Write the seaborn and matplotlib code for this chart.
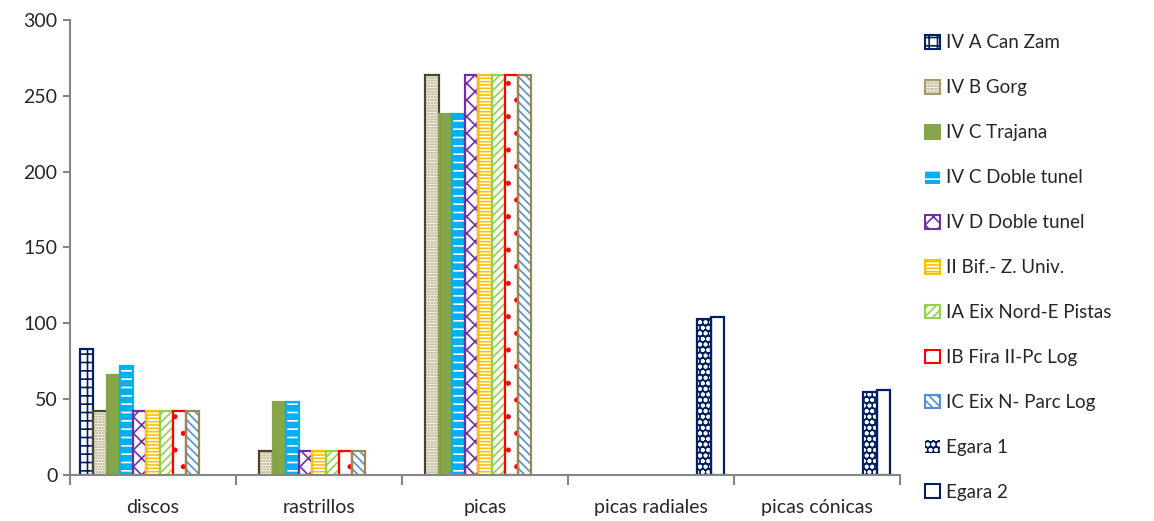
import numpy as np
import pandas as pd
import matplotlib
matplotlib.use("Agg")
import matplotlib.pyplot as plt
from matplotlib.patches import Rectangle, Patch
import seaborn as sns

categories = ["discos", "rastrillos", "picas", "picas radiales", "picas cónicas"]
series = ["IV A Can Zam", "IV B Gorg", "IV C Trajana", "IV C Doble tunel",
          "IV D Doble tunel", "II Bif.- Z. Univ.", "IA Eix Nord-E Pistas",
          "IB Fira II-Pc Log", "IC Eix N- Parc Log", "Egara 1", "Egara 2"]

iv_a_can_zam = [83, 0, 0, 0, 0]
iv_b_gorg = [42, 16, 264, 0, 0]
iv_c_trajana = [66, 48, 238, 0, 0]
iv_c_doble_tunel = [72, 48, 238, 0, 0]
iv_d_doble_tunel = [42, 16, 264, 0, 0]
ii_bif_z_univ = [42, 16, 264, 0, 0]
ia_eix_nord_e_pistas = [42, 16, 264, 0, 0]
ib_fira_ii_pc_log = [42, 16, 264, 0, 0]
ic_eix_n_parc_log = [42, 16, 264, 0, 0]
egara_1 = [0, 0, 0, 103, 55]
egara_2 = [0, 0, 0, 104, 56]

values = [iv_a_can_zam, iv_b_gorg, iv_c_trajana, iv_c_doble_tunel,
          iv_d_doble_tunel, ii_bif_z_univ, ia_eix_nord_e_pistas,
          ib_fira_ii_pc_log, ic_eix_n_parc_log, egara_1, egara_2]

# (face, hatch colour, hatch, border)
styles = [
    ("white", "#002060", "++", "#002060"),
    ("white", "#A89B6A", "......", "#4A452A"),
    ("#86A44A", "#86A44A", "", "#86A44A"),
    ("#00B0F0", "white", "--", "#00B0F0"),
    ("white", "#7030A0", "xx", "#7030A0"),
    ("white", "#FFC000", "-----", "#FFC000"),
    ("white", "#92D050", "////", "#92D050"),
    ("white", "#FF0000", ".", "#FF0000"),
    ("white", "#558ED5", "\\\\\\\\", "#948A54"),
    ("#002060", "white", "ooo", "#002060"),
    ("white", "#002060", "", "#002060"),
]

rows = []
for s, vals in zip(series, values):
    for c, v in zip(categories, vals):
        rows.append({"cat": c, "serie": s, "val": v})
df = pd.DataFrame(rows)

sns.set_style("white")
plt.rcParams["font.family"] = ["Lato", "DejaVu Sans"]
plt.rcParams["hatch.linewidth"] = 1.2

fig = plt.figure(figsize=(11.54, 5.21), dpi=100)
ax = fig.add_axes([70 / 1154, 46 / 521, 830 / 1154, 455 / 521])

palette = {s: st[0] for s, st in zip(series, styles)}
sns.barplot(data=df, x="cat", y="val", hue="serie", hue_order=series,
            order=categories, palette=palette, width=0.88, gap=0,
            dodge=True, ax=ax, legend=False, errorbar=None, saturation=1)

for cont, (face, hcol, hatch, border) in zip(ax.containers, styles):
    for p in cont.patches:
        p.set_facecolor(face)
        p.set_edgecolor(hcol)
        p.set_hatch(hatch)
        p.set_linewidth(0)
        if p.get_height() > 0:
            ax.add_patch(Rectangle(p.get_xy(), p.get_width(), p.get_height(),
                                   fill=False, edgecolor=border, lw=1.6,
                                   zorder=p.get_zorder() + 0.1))

ax.set_xlim(-0.5, len(categories) - 0.5)
ax.set_ylim(0, 300)
ax.set_yticks(np.arange(0, 301, 50))
ax.set_xlabel("")
ax.set_ylabel("")

grey = "#868686"
for side in ["top", "right"]:
    ax.spines[side].set_visible(False)
for side in ["left", "bottom"]:
    ax.spines[side].set_color(grey)
    ax.spines[side].set_linewidth(1.5)

ax.set_xticks(np.arange(len(categories)))
ax.set_xticklabels(categories)
ax.set_xticks(np.arange(-0.5, len(categories), 1.0), minor=True)
ax.tick_params(axis="x", which="major", length=0, labelsize=14, pad=17)
ax.tick_params(axis="x", which="minor", length=7, width=1.5, color=grey,
               direction="out", bottom=True)
ax.tick_params(axis="y", length=5, width=1.5, color=grey, direction="out",
               left=True, labelsize=14, pad=4)

handles = []
for face, hcol, hatch, border in styles:
    if face != "white" and hcol == "white":
        handles.append(Patch(facecolor=face, edgecolor="white", hatch=hatch, lw=0))
    else:
        handles.append(Patch(facecolor=face, edgecolor=hcol, hatch=hatch, lw=1.5))
leg = fig.legend(handles, series, loc="upper left",
                 bbox_to_anchor=(918 / 1154, 1 - 27 / 521),
                 frameon=False, fontsize=13.5, handlelength=0.75,
                 handleheight=0.75, handletextpad=0.35, labelspacing=1.49,
                 borderaxespad=0)

fig.savefig("out.png", dpi=100)
